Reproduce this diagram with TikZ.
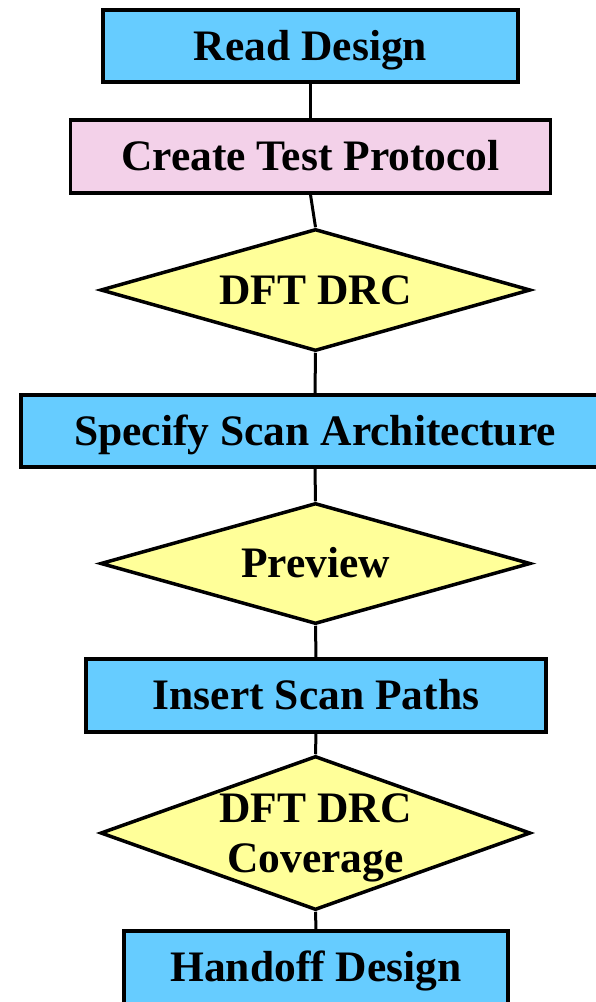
\documentclass[tikz,border=0pt]{standalone}
\usepackage{fontspec}
\setmainfont{Liberation Serif}
\usetikzlibrary{shapes.geometric}
\definecolor{stepblue}{HTML}{66CCFF}
\definecolor{steppink}{HTML}{F3D1E9}
\definecolor{checkyellow}{HTML}{FFFF99}
\tikzset{
  words/.style={inner sep=0pt, text height=28.5pt, text depth=0pt,
    font=\fontsize{43.5}{50}\selectfont\bfseries},
  base/.style={words, draw=black, line width=3.5pt},
  stepbox/.style={base, rectangle, fill=stepblue},
  protobox/.style={base, rectangle, fill=steppink},
  check/.style={draw=black, line width=3.5pt, inner sep=0pt, diamond, fill=checkyellow, line join=miter},
  link/.style={draw=black, line width=3pt}
}
\begin{document}
\begin{tikzpicture}[x=1pt, y=-1pt]
\useasboundingbox (0,0) rectangle (596,1002);
\node[stepbox, minimum width=415pt, minimum height=72pt] (read) at (310.5,46) {Read Design};
\node[protobox, minimum width=480pt, minimum height=73pt] (proto) at (310.5,156.5) {Create Test Protocol};
\node[check, minimum width=430pt, minimum height=122pt,
  label={[words]center:DFT DRC}] (drc) at (315.5,290) {};
\node[stepbox, minimum width=588pt, minimum height=72pt] (arch) at (315,431) {Specify Scan Architecture};
\node[check, minimum width=430pt, minimum height=121pt,
  label={[words]center:Preview}] (prev) at (315.5,563.5) {};
\node[stepbox, minimum width=460pt, minimum height=73pt] (ins) at (316,695.5) {Insert Scan Paths};
\node[check, minimum width=430pt, minimum height=154pt,
  label={[words, yshift=25pt]center:DFT DRC},
  label={[words, yshift=-25.5pt]center:Coverage}] (cov) at (315.5,833) {};
\node[stepbox, minimum width=384pt, minimum height=73pt] (hand) at (316,967.5) {Handoff Design};
\draw[link] (read.south) -- (proto.north);
\draw[link] (proto.south) -- (drc.north);
\draw[link] (drc.south) -- (arch.north);
\draw[link] (arch.south) -- (prev.north);
\draw[link] (prev.south) -- (ins.north);
\draw[link] (ins.south) -- (cov.north);
\draw[link] (cov.south) -- (hand.north);
\end{tikzpicture}
\end{document}
